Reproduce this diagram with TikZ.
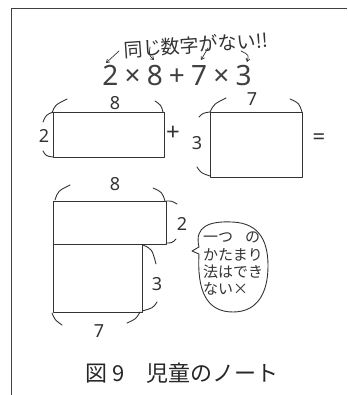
\documentclass[tikz,border=0pt]{standalone}
\usepackage{fontspec}
\setmainfont{Noto Sans}
\newfontfamily\jp{Noto Sans CJK JP}
\usetikzlibrary{arrows.meta}
\tikzset{
  pencil/.style={draw=black!80, line width=0.9pt, line cap=round, line join=round},
  numtxt/.style={inner sep=0pt, text=black!80, font=\fontsize{18}{18}\selectfont},
  jptxt/.style={inner sep=0pt, text=black!80},
  hint/.style={pencil, line width=0.7pt, -{Straight Barb[length=3pt,width=4pt]}},
}
\begin{document}
\begin{tikzpicture}[x=1pt,y=-1pt]
\useasboundingbox (0,0) rectangle (347,395);
% frame
\draw[black!75, line width=1pt] (11,395) -- (11,9) -- (347,9);

% heading remark and expression
\node[jptxt, font=\jp\fontsize{19}{19}\selectfont, rotate=4] (remark) at (196,45) {同じ数字がない!!};
\node[numtxt, text=black!75, font=\fontsize{28}{28}\selectfont] (expr) at (177,76) {2\hspace{0.22em}×\hspace{0.22em}8\hspace{0.22em}+\hspace{0.22em}7\hspace{0.22em}×\hspace{0.22em}3};
\coordinate (a1s) at (119,51); \coordinate (a1e) at (106,63);
\coordinate (a2s) at (150,47); \coordinate (a2e) at (154,60);
\coordinate (a3s) at (208,48); \coordinate (a3e) at (201,60);
\coordinate (a4s) at (241,51); \coordinate (a4e) at (247,62);
\draw[hint] (a1s) -- (a1e);
\draw[hint] (a2s) .. controls (149,55) .. (a2e);
\draw[hint] (a3s) -- (a3e);
\draw[hint] (a4s) .. controls (249,55) .. (a4e);

% rectangle 2 x 8
\draw[pencil] (53,112) rectangle (164,157);
\node[numtxt] (r1w) at (115,103) {8};
\node[numtxt] (r1h) at (44,136) {2};
\draw[pencil] (52,113) .. controls (55,105) .. (67,99);
\draw[pencil] (155,101) .. controls (161,105) .. (163,112);
\draw[pencil] (53,112) .. controls (46,115) .. (43,122);
\draw[pencil] (43,151) .. controls (46,156) .. (53,157);
\node[numtxt, font=\fontsize{24}{24}\selectfont] (plus) at (173,133) {+};

% rectangle 3 x 7
\draw[pencil] (210,112) rectangle (302,177);
\node[numtxt] (r2w) at (252,99) {7};
\node[numtxt] (r2h) at (197,143) {3};
\draw[pencil] (210,112) .. controls (214,104) .. (226,98);
\draw[pencil] (290,99) .. controls (299,103) .. (302,112);
\draw[pencil] (210,112) .. controls (203,113) .. (199,117);
\draw[pencil] (197,167) .. controls (201,173) .. (210,176);
\node[numtxt, font=\fontsize{22}{22}\selectfont] (eq) at (319,139) {=};

% combined figure
\draw[pencil] (53,201) rectangle (166,244);
\draw[pencil] (53,244) rectangle (142,312);
\node[numtxt] (r3w) at (115,184) {8};
\node[numtxt] (r3h) at (182,224) {2};
\node[numtxt] (r4h) at (157,284) {3};
\node[numtxt] (r4w) at (99,331) {7};
\draw[pencil] (55,200) .. controls (58,191) .. (70,185);
\draw[pencil] (153,188) .. controls (162,192) .. (165,201);
\draw[pencil] (166,201) .. controls (172,201) .. (177,204);
\draw[pencil] (166,243) .. controls (172,243) .. (176,239);
\draw[pencil] (143,245) .. controls (152,249) .. (156,264);
\draw[pencil] (157,302) .. controls (153,308) .. (142,311);
\draw[pencil] (52,313) .. controls (55,320) .. (62,325);
\draw[pencil] (140,312) .. controls (136,319) .. (127,323);

% speech bubble
\draw[pencil] (199,247) .. controls (194,226) and (210,221) .. (232,222)
  .. controls (262,223) and (268,245) .. (268,266)
  .. controls (268,292) and (258,312) .. (233,312)
  .. controls (206,312) and (197,290) .. (199,254)
  -- (192,251) -- (199,247);
\node[jptxt, font=\jp\fontsize{15}{17.3}\selectfont, align=left, anchor=north west] (bubbletxt) at (203,232)
  {一つ\hspace{0.8em}の\\かたまり\\法はでき\\ない×};

% caption
\node[jptxt, text=black!85, font=\jp\fontsize{22}{22}\selectfont] (caption) at (182,373) {図\hspace{0.2em}9\hspace{1em}児童のノート};
\end{tikzpicture}
\end{document}
